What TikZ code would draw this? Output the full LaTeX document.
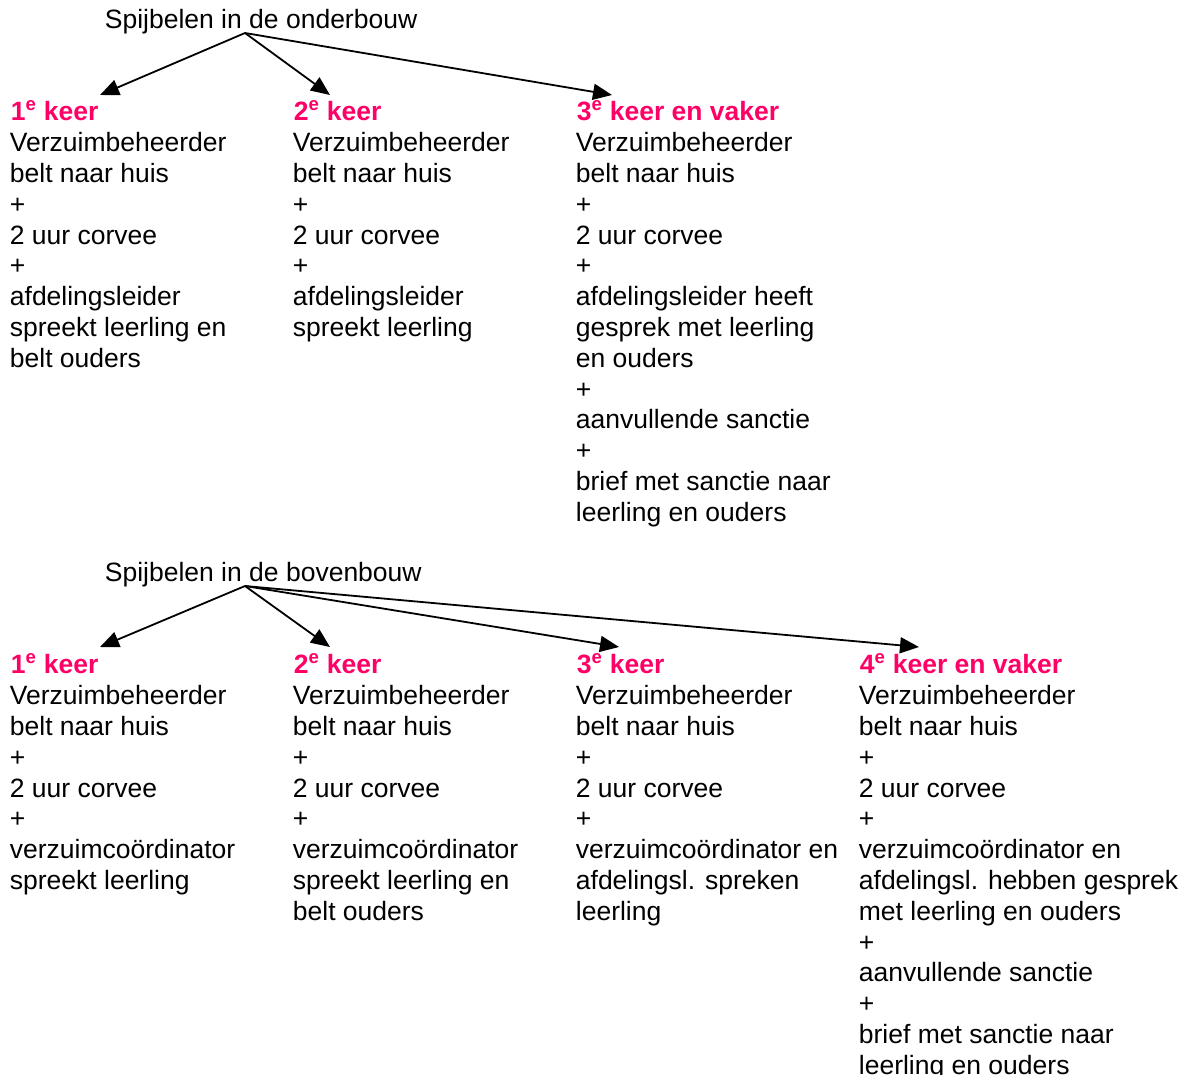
\documentclass[tikz,border=0pt]{standalone}
\usepackage{fontspec}
\setmainfont{Liberation Sans}
\usetikzlibrary{arrows.meta}
\definecolor{keerpink}{RGB}{255,0,102}

\begin{document}
\begin{tikzpicture}[>={Triangle[length=19pt,width=16pt]},x=1pt,y=-1pt,line width=1.8pt]
 \tikzstyle{titel}=[anchor=base west,inner sep=0pt,font=\fontsize{26.5}{30.8}\selectfont]
 \tikzstyle{kop}=[anchor=base west,inner sep=0pt,text=keerpink,font=\fontsize{26.5}{30.8}\selectfont\bfseries]
 \tikzstyle{tekst}=[anchor=north west,inner sep=0pt,align=left,font=\fontsize{26.5}{30.8}\selectfont]
 \useasboundingbox (0,0) rectangle (1185,1074);

 % onderbouw
 \node (ondertitel) at (104,28) [titel] {Spijbelen in de onderbouw};
 \coordinate (onderstart) at (245,33);

 \node (O1) at (10,120) [kop] {1\textsuperscript{e} keer};
 \node (O2) at (293,120) [kop] {2\textsuperscript{e} keer};
 \node (O3) at (576,120) [kop] {3\textsuperscript{e} keer en vaker};

 \node (O1tekst) at (9,131.5) [tekst] {Verzuimbeheerder\\belt naar huis\\+\\2 uur corvee\\+\\afdelingsleider\\spreekt leerling en\\belt ouders};
 \node (O2tekst) at (292,131.5) [tekst] {Verzuimbeheerder\\belt naar huis\\+\\2 uur corvee\\+\\afdelingsleider\\spreekt leerling};
 \node (O3tekst) at (575,131.5) [tekst] {Verzuimbeheerder\\belt naar huis\\+\\2 uur corvee\\+\\afdelingsleider heeft\\gesprek met leerling\\en ouders\\+\\aanvullende sanctie\\+\\brief met sanctie naar\\leerling en ouders};

 \draw [->] (onderstart) -- ([xshift=90pt,yshift=25pt]O1.base west);
 \draw [->] (onderstart) -- ([xshift=37pt,yshift=25pt]O2.base west);
 \draw [->] (onderstart) -- ([xshift=36pt,yshift=25pt]O3.base west);

 % bovenbouw
 \node (boventitel) at (104,581) [titel] {Spijbelen in de bovenbouw};
 \coordinate (bovenstart) at (245,586);

 \node (B1) at (10,673) [kop] {1\textsuperscript{e} keer};
 \node (B2) at (293,673) [kop] {2\textsuperscript{e} keer};
 \node (B3) at (576,673) [kop] {3\textsuperscript{e} keer};
 \node (B4) at (859,673) [kop] {4\textsuperscript{e} keer en vaker};

 \node (B1tekst) at (9,684.5) [tekst] {Verzuimbeheerder\\belt naar huis\\+\\2 uur corvee\\+\\verzuimcoördinator\\spreekt leerling};
 \node (B2tekst) at (292,684.5) [tekst] {Verzuimbeheerder\\belt naar huis\\+\\2 uur corvee\\+\\verzuimcoördinator\\spreekt leerling en\\belt ouders};
 \node (B3tekst) at (575,684.5) [tekst] {Verzuimbeheerder\\belt naar huis\\+\\2 uur corvee\\+\\verzuimcoördinator en\\afdelingsl. spreken\\leerling};
 \node (B4tekst) at (858,684.5) [tekst] {Verzuimbeheerder\\belt naar huis\\+\\2 uur corvee\\+\\verzuimcoördinator en\\afdelingsl. hebben gesprek\\met leerling en ouders\\+\\aanvullende sanctie\\+\\brief met sanctie naar\\leerling en ouders};

 \draw [->] (bovenstart) -- ([xshift=90pt,yshift=26pt]B1.base west);
 \draw [->] (bovenstart) -- ([xshift=37pt,yshift=26pt]B2.base west);
 \draw [->] (bovenstart) -- ([xshift=43pt,yshift=26pt]B3.base west);
 \draw [->] (bovenstart) -- ([xshift=60pt,yshift=26pt]B4.base west);
\end{tikzpicture}
\end{document}
